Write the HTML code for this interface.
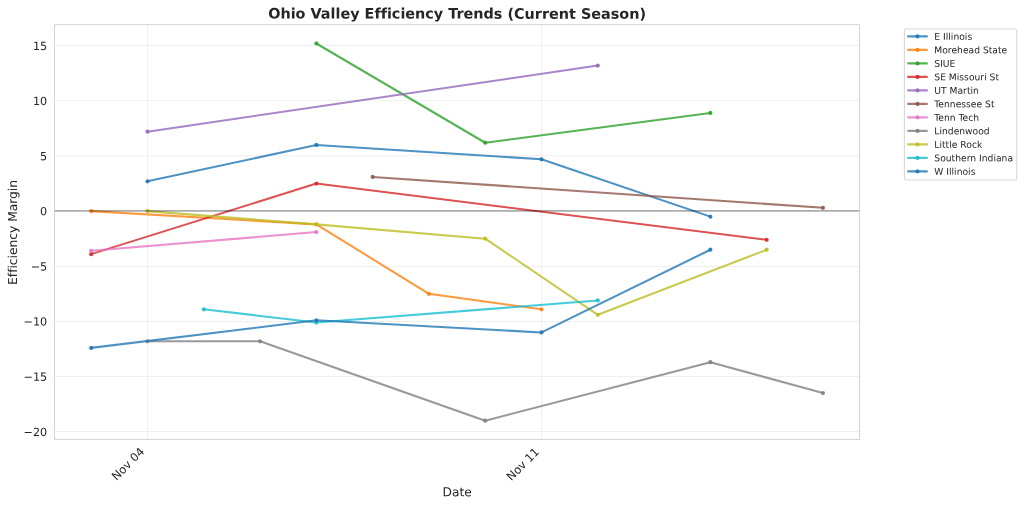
<!DOCTYPE html>
<html lang="en">
<head>
<meta charset="utf-8">
<title>Ohio Valley Efficiency Trends (Current Season)</title>
<style>
html,body{margin:0;padding:0;background:#fff;}
body{width:1024px;height:506px;overflow:hidden;}
svg{display:block;will-change:transform;}
text{font-family:"DejaVu Sans","Liberation Sans",sans-serif;fill:#262626;font-variant-ligatures:none;font-feature-settings:"liga" 0,"clig" 0;font-kerning:normal;}
</style>
</head>
<body>
<svg width="1024" height="506" viewBox="0 0 1024 506">
<rect x="0" y="0" width="1024" height="506" fill="#ffffff"/>

<g stroke="#cccccc" stroke-opacity="0.3" stroke-width="1.00" fill="none">
<line x1="54.60" y1="431.50" x2="859.60" y2="431.50"/>
<line x1="54.60" y1="376.50" x2="859.60" y2="376.50"/>
<line x1="54.60" y1="321.50" x2="859.60" y2="321.50"/>
<line x1="54.60" y1="266.50" x2="859.60" y2="266.50"/>
<line x1="54.60" y1="210.90" x2="859.60" y2="210.90"/>
<line x1="54.60" y1="155.75" x2="859.60" y2="155.75"/>
<line x1="54.60" y1="100.60" x2="859.60" y2="100.60"/>
<line x1="54.60" y1="45.50" x2="859.60" y2="45.50"/>
<line x1="147.50" y1="24.70" x2="147.50" y2="439.40"/>
<line x1="541.50" y1="24.70" x2="541.50" y2="439.40"/>
</g>
<g stroke="#1f77b4" fill="#1f77b4" stroke-opacity="0.80" fill-opacity="0.80">
<polyline points="147.49,181.34 316.36,144.95 541.52,159.28 710.39,216.63" fill="none" stroke-width="2.08" stroke-linecap="round" stroke-linejoin="round"/>
<circle cx="147.49" cy="181.34" r="1.60" stroke-width="1.04"/>
<circle cx="316.36" cy="144.95" r="1.60" stroke-width="1.04"/>
<circle cx="541.52" cy="159.28" r="1.60" stroke-width="1.04"/>
<circle cx="710.39" cy="216.63" r="1.60" stroke-width="1.04"/>
</g>
<g stroke="#ff7f0e" fill="#ff7f0e" stroke-opacity="0.80" fill-opacity="0.80">
<polyline points="91.20,211.12 316.36,224.35 428.94,293.84 541.52,309.28" fill="none" stroke-width="2.08" stroke-linecap="round" stroke-linejoin="round"/>
<circle cx="91.20" cy="211.12" r="1.60" stroke-width="1.04"/>
<circle cx="316.36" cy="224.35" r="1.60" stroke-width="1.04"/>
<circle cx="428.94" cy="293.84" r="1.60" stroke-width="1.04"/>
<circle cx="541.52" cy="309.28" r="1.60" stroke-width="1.04"/>
</g>
<g stroke="#2ca02c" fill="#2ca02c" stroke-opacity="0.80" fill-opacity="0.80">
<polyline points="316.36,43.48 485.23,142.74 710.39,112.96" fill="none" stroke-width="2.08" stroke-linecap="round" stroke-linejoin="round"/>
<circle cx="316.36" cy="43.48" r="1.60" stroke-width="1.04"/>
<circle cx="485.23" cy="142.74" r="1.60" stroke-width="1.04"/>
<circle cx="710.39" cy="112.96" r="1.60" stroke-width="1.04"/>
</g>
<g stroke="#d62728" fill="#d62728" stroke-opacity="0.80" fill-opacity="0.80">
<polyline points="91.20,254.13 316.36,183.55 766.68,239.80" fill="none" stroke-width="2.08" stroke-linecap="round" stroke-linejoin="round"/>
<circle cx="91.20" cy="254.13" r="1.60" stroke-width="1.04"/>
<circle cx="316.36" cy="183.55" r="1.60" stroke-width="1.04"/>
<circle cx="766.68" cy="239.80" r="1.60" stroke-width="1.04"/>
</g>
<g stroke="#9467bd" fill="#9467bd" stroke-opacity="0.80" fill-opacity="0.80">
<polyline points="147.49,131.71 597.81,65.54" fill="none" stroke-width="2.08" stroke-linecap="round" stroke-linejoin="round"/>
<circle cx="147.49" cy="131.71" r="1.60" stroke-width="1.04"/>
<circle cx="597.81" cy="65.54" r="1.60" stroke-width="1.04"/>
</g>
<g stroke="#8c564b" fill="#8c564b" stroke-opacity="0.80" fill-opacity="0.80">
<polyline points="372.65,176.93 822.97,207.81" fill="none" stroke-width="2.08" stroke-linecap="round" stroke-linejoin="round"/>
<circle cx="372.65" cy="176.93" r="1.60" stroke-width="1.04"/>
<circle cx="822.97" cy="207.81" r="1.60" stroke-width="1.04"/>
</g>
<g stroke="#e377c2" fill="#e377c2" stroke-opacity="0.80" fill-opacity="0.80">
<polyline points="91.20,250.82 316.36,232.08" fill="none" stroke-width="2.08" stroke-linecap="round" stroke-linejoin="round"/>
<circle cx="91.20" cy="250.82" r="1.60" stroke-width="1.04"/>
<circle cx="316.36" cy="232.08" r="1.60" stroke-width="1.04"/>
</g>
<g stroke="#7f7f7f" fill="#7f7f7f" stroke-opacity="0.80" fill-opacity="0.80">
<polyline points="147.49,341.26 260.07,341.26 485.23,420.67 710.39,362.22 822.97,393.10" fill="none" stroke-width="2.08" stroke-linecap="round" stroke-linejoin="round"/>
<circle cx="147.49" cy="341.26" r="1.60" stroke-width="1.04"/>
<circle cx="260.07" cy="341.26" r="1.60" stroke-width="1.04"/>
<circle cx="485.23" cy="420.67" r="1.60" stroke-width="1.04"/>
<circle cx="710.39" cy="362.22" r="1.60" stroke-width="1.04"/>
<circle cx="822.97" cy="393.10" r="1.60" stroke-width="1.04"/>
</g>
<g stroke="#bcbd22" fill="#bcbd22" stroke-opacity="0.80" fill-opacity="0.80">
<polyline points="147.49,211.12 316.36,224.35 485.23,238.69 597.81,314.79 766.68,249.72" fill="none" stroke-width="2.08" stroke-linecap="round" stroke-linejoin="round"/>
<circle cx="147.49" cy="211.12" r="1.60" stroke-width="1.04"/>
<circle cx="316.36" cy="224.35" r="1.60" stroke-width="1.04"/>
<circle cx="485.23" cy="238.69" r="1.60" stroke-width="1.04"/>
<circle cx="597.81" cy="314.79" r="1.60" stroke-width="1.04"/>
<circle cx="766.68" cy="249.72" r="1.60" stroke-width="1.04"/>
</g>
<g stroke="#17becf" fill="#17becf" stroke-opacity="0.80" fill-opacity="0.80">
<polyline points="203.78,309.28 316.36,322.51 597.81,300.45" fill="none" stroke-width="2.08" stroke-linecap="round" stroke-linejoin="round"/>
<circle cx="203.78" cy="309.28" r="1.60" stroke-width="1.04"/>
<circle cx="316.36" cy="322.51" r="1.60" stroke-width="1.04"/>
<circle cx="597.81" cy="300.45" r="1.60" stroke-width="1.04"/>
</g>
<g stroke="#1f77b4" fill="#1f77b4" stroke-opacity="0.80" fill-opacity="0.80">
<polyline points="91.20,347.88 316.36,320.31 541.52,332.44 710.39,249.72" fill="none" stroke-width="2.08" stroke-linecap="round" stroke-linejoin="round"/>
<circle cx="91.20" cy="347.88" r="1.60" stroke-width="1.04"/>
<circle cx="316.36" cy="320.31" r="1.60" stroke-width="1.04"/>
<circle cx="541.52" cy="332.44" r="1.60" stroke-width="1.04"/>
<circle cx="710.39" cy="249.72" r="1.60" stroke-width="1.04"/>
</g>
<line x1="54.60" y1="210.90" x2="859.60" y2="210.90" stroke="#000000" stroke-opacity="0.30" stroke-width="1.56"/>
<rect x="54.60" y="24.70" width="805.00" height="414.70" fill="none" stroke="#cccccc" stroke-width="0.85"/>
<text transform="translate(457.10 18.60) rotate(0.05)" font-size="14.40" font-weight="bold" text-anchor="middle">Ohio Valley Efficiency Trends (Current Season)</text>
<text transform="translate(47.20 435.90) rotate(0.05)" font-size="11.20" text-anchor="end">−20</text>
<text transform="translate(47.20 380.75) rotate(0.05)" font-size="11.20" text-anchor="end">−15</text>
<text transform="translate(47.20 325.61) rotate(0.05)" font-size="11.20" text-anchor="end">−10</text>
<text transform="translate(47.20 270.46) rotate(0.05)" font-size="11.20" text-anchor="end">−5</text>
<text transform="translate(47.20 215.32) rotate(0.05)" font-size="11.20" text-anchor="end">0</text>
<text transform="translate(47.20 160.18) rotate(0.05)" font-size="11.20" text-anchor="end">5</text>
<text transform="translate(47.20 105.03) rotate(0.05)" font-size="11.20" text-anchor="end">10</text>
<text transform="translate(47.20 49.89) rotate(0.05)" font-size="11.20" text-anchor="end">15</text>
<text transform="translate(145.09 452.30) rotate(-45)" font-size="11.45" text-anchor="end">Nov 04</text>
<text transform="translate(540.02 452.60) rotate(-45)" font-size="11.45" text-anchor="end">Nov 11</text>
<text transform="translate(457.10 496.30) rotate(0.05)" font-size="12.25" text-anchor="middle">Date</text>
<text transform="translate(17.00 232.45) rotate(-89.95)" font-size="12.25" text-anchor="middle">Efficiency Margin</text>
<rect x="904.40" y="28.90" width="112.40" height="151.10" rx="2.2" ry="2.2" fill="#ffffff" fill-opacity="0.8" stroke="#cccccc" stroke-opacity="0.8" stroke-width="1.04"/>
<g stroke="#1f77b4" fill="#1f77b4" stroke-opacity="0.80" fill-opacity="0.80"><line x1="908.10" y1="36.40" x2="926.90" y2="36.40" stroke-width="2.08" stroke-linecap="round"/><circle cx="917.50" cy="36.40" r="1.60" stroke-width="1.04"/></g>
<text transform="translate(934.30 39.70) rotate(0.05)" font-size="9.20">E Illinois</text>
<g stroke="#ff7f0e" fill="#ff7f0e" stroke-opacity="0.80" fill-opacity="0.80"><line x1="908.10" y1="49.90" x2="926.90" y2="49.90" stroke-width="2.08" stroke-linecap="round"/><circle cx="917.50" cy="49.90" r="1.60" stroke-width="1.04"/></g>
<text transform="translate(934.30 53.20) rotate(0.05)" font-size="9.20">Morehead State</text>
<g stroke="#2ca02c" fill="#2ca02c" stroke-opacity="0.80" fill-opacity="0.80"><line x1="908.10" y1="63.40" x2="926.90" y2="63.40" stroke-width="2.08" stroke-linecap="round"/><circle cx="917.50" cy="63.40" r="1.60" stroke-width="1.04"/></g>
<text transform="translate(934.30 66.70) rotate(0.05)" font-size="9.20">SIUE</text>
<g stroke="#d62728" fill="#d62728" stroke-opacity="0.80" fill-opacity="0.80"><line x1="908.10" y1="76.90" x2="926.90" y2="76.90" stroke-width="2.08" stroke-linecap="round"/><circle cx="917.50" cy="76.90" r="1.60" stroke-width="1.04"/></g>
<text transform="translate(934.30 80.20) rotate(0.05)" font-size="9.20">SE Missouri St</text>
<g stroke="#9467bd" fill="#9467bd" stroke-opacity="0.80" fill-opacity="0.80"><line x1="908.10" y1="90.40" x2="926.90" y2="90.40" stroke-width="2.08" stroke-linecap="round"/><circle cx="917.50" cy="90.40" r="1.60" stroke-width="1.04"/></g>
<text transform="translate(934.30 93.70) rotate(0.05)" font-size="9.20">UT Martin</text>
<g stroke="#8c564b" fill="#8c564b" stroke-opacity="0.80" fill-opacity="0.80"><line x1="908.10" y1="103.90" x2="926.90" y2="103.90" stroke-width="2.08" stroke-linecap="round"/><circle cx="917.50" cy="103.90" r="1.60" stroke-width="1.04"/></g>
<text transform="translate(934.30 107.20) rotate(0.05)" font-size="9.20">Tennessee St</text>
<g stroke="#e377c2" fill="#e377c2" stroke-opacity="0.80" fill-opacity="0.80"><line x1="908.10" y1="117.40" x2="926.90" y2="117.40" stroke-width="2.08" stroke-linecap="round"/><circle cx="917.50" cy="117.40" r="1.60" stroke-width="1.04"/></g>
<text transform="translate(934.30 120.70) rotate(0.05)" font-size="9.20">Tenn Tech</text>
<g stroke="#7f7f7f" fill="#7f7f7f" stroke-opacity="0.80" fill-opacity="0.80"><line x1="908.10" y1="130.90" x2="926.90" y2="130.90" stroke-width="2.08" stroke-linecap="round"/><circle cx="917.50" cy="130.90" r="1.60" stroke-width="1.04"/></g>
<text transform="translate(934.30 134.20) rotate(0.05)" font-size="9.20">Lindenwood</text>
<g stroke="#bcbd22" fill="#bcbd22" stroke-opacity="0.80" fill-opacity="0.80"><line x1="908.10" y1="144.40" x2="926.90" y2="144.40" stroke-width="2.08" stroke-linecap="round"/><circle cx="917.50" cy="144.40" r="1.60" stroke-width="1.04"/></g>
<text transform="translate(934.30 147.70) rotate(0.05)" font-size="9.20">Little Rock</text>
<g stroke="#17becf" fill="#17becf" stroke-opacity="0.80" fill-opacity="0.80"><line x1="908.10" y1="157.90" x2="926.90" y2="157.90" stroke-width="2.08" stroke-linecap="round"/><circle cx="917.50" cy="157.90" r="1.60" stroke-width="1.04"/></g>
<text transform="translate(934.30 161.20) rotate(0.05)" font-size="9.20">Southern Indiana</text>
<g stroke="#1f77b4" fill="#1f77b4" stroke-opacity="0.80" fill-opacity="0.80"><line x1="908.10" y1="171.40" x2="926.90" y2="171.40" stroke-width="2.08" stroke-linecap="round"/><circle cx="917.50" cy="171.40" r="1.60" stroke-width="1.04"/></g>
<text transform="translate(934.30 174.70) rotate(0.05)" font-size="9.20">W Illinois</text>
</svg>
</body>
</html>
